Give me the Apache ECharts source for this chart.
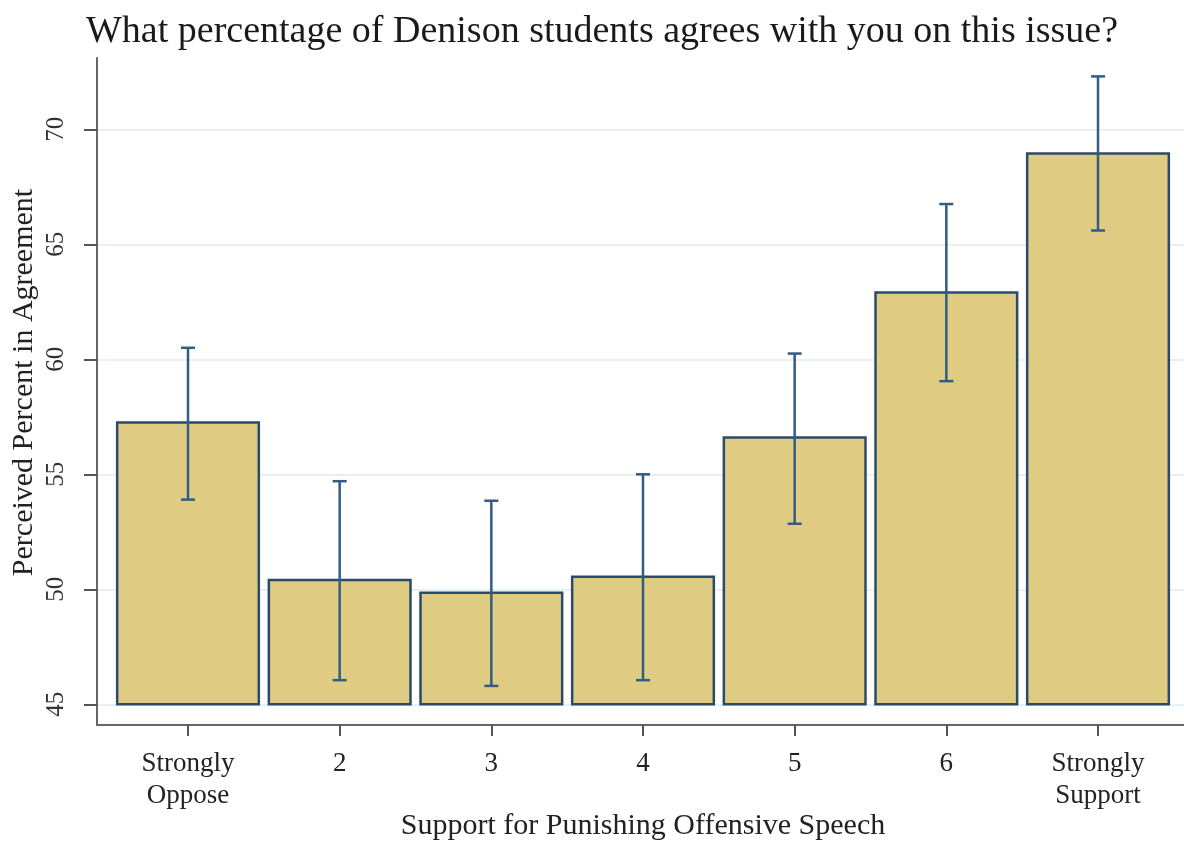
<!DOCTYPE html>
<html>
<head>
<meta charset="utf-8">
<script src="https://cdn.jsdelivr.net/npm/echarts@6/dist/echarts.min.js"></script>
<style>
  html, body { margin: 0; padding: 0; background: #ffffff; }
  #chart { width: 1184px; height: 842px; }
</style>
</head>
<body>
<div id="chart"></div>
<script>
// Support categories (1 = Strongly Oppose ... 7 = Strongly Support)
const categories = ['Strongly\nOppose', '2', '3', '4', '5', '6', 'Strongly\nSupport'];
// Mean perceived percent in agreement for each category
const means = [57.25, 50.4, 49.85, 50.55, 56.6, 62.9, 68.95];
// 95% confidence interval bounds
const lower = [53.9, 46.05, 45.8, 46.05, 52.85, 59.05, 65.6];
const upper = [60.5, 54.7, 53.85, 55.0, 60.25, 66.75, 72.3];
// Y-axis tick values
const yTicks = [45, 50, 55, 60, 65, 70];
const xTicks = [1, 2, 3, 4, 5, 6, 7];
const barBase = 45;

const serif = '"Liberation Serif", "DejaVu Serif", serif';
const barRows = means.map((m, i) => [i + 1, m]);
const errRows = means.map((m, i) => [i + 1, lower[i], upper[i]]);

const chart = echarts.init(document.getElementById('chart'), null, { renderer: 'canvas' });

chart.setOption({
  backgroundColor: '#ffffff',
  animation: false,
  title: {
    text: 'What percentage of Denison students agrees with you on this issue?',
    left: 81,
    top: 8,
    textStyle: { fontFamily: serif, fontSize: 38, fontWeight: 'normal', color: '#1a1a1a' }
  },
  grid: { left: 97, right: -5, top: 58, bottom: 117, containLabel: false, outerBoundsMode: 'none' },
  xAxis: {
    type: 'value',
    min: 0.4,
    max: 7.6,
    name: 'Support for Punishing Offensive Speech',
    nameLocation: 'middle',
    nameGap: 86,
    nameMoveOverlap: false,
    nameTextStyle: { fontFamily: serif, fontSize: 30, color: '#222' },
    axisLine: { show: true, onZero: false, lineStyle: { color: '#666', width: 2 } },
    axisTick: { show: true, customValues: xTicks, length: 11, lineStyle: { color: '#555', width: 2 } },
    axisLabel: {
      customValues: xTicks,
      formatter: v => categories[Math.round(v) - 1],
      fontFamily: serif, fontSize: 27, color: '#222', lineHeight: 32, margin: 23
    },
    splitLine: { show: false }
  },
  yAxis: {
    type: 'value',
    min: 44.1,
    max: 73.1,
    name: 'Perceived Percent in Agreement',
    nameLocation: 'middle',
    nameGap: 58,
    nameMoveOverlap: false,
    nameTextStyle: { fontFamily: serif, fontSize: 30, color: '#222', padding: [0, 0, 0, 18] },
    axisLine: { show: true, onZero: false, lineStyle: { color: '#666', width: 2 } },
    axisTick: { show: true, customValues: yTicks, length: 13, lineStyle: { color: '#555', width: 2 } },
    axisLabel: {
      customValues: yTicks,
      rotate: 90,
      fontFamily: serif, fontSize: 25, color: '#333', margin: 28
    },
    splitLine: { show: true, lineStyle: { color: '#e7f0f2', width: 2 } }
  },
  series: [
    {
      type: 'custom',
      name: 'bars',
      data: barRows,
      encode: { x: 0, y: 1 },
      renderItem: function (params, api) {
        const x = api.value(0);
        const v = api.value(1);
        const half = 0.467;
        const p0 = api.coord([x - half, v]);
        const p1 = api.coord([x + half, barBase]);
        return {
          type: 'rect',
          shape: { x: p0[0], y: p0[1], width: p1[0] - p0[0], height: p1[1] - p0[1] },
          style: { fill: '#dfcb81', stroke: '#2a4b6c', lineWidth: 2.5 }
        };
      },
      z: 2
    },
    {
      type: 'custom',
      name: 'ci',
      data: errRows,
      encode: { x: 0, y: [1, 2] },
      renderItem: function (params, api) {
        const x = api.value(0);
        const lo = api.coord([x, api.value(1)]);
        const hi = api.coord([x, api.value(2)]);
        const cap = 7;
        const st = { stroke: '#325c84', lineWidth: 2.5 };
        return {
          type: 'group',
          children: [
            { type: 'line', shape: { x1: lo[0], y1: lo[1], x2: hi[0], y2: hi[1] }, style: st },
            { type: 'line', shape: { x1: lo[0] - cap, y1: lo[1], x2: lo[0] + cap, y2: lo[1] }, style: st },
            { type: 'line', shape: { x1: hi[0] - cap, y1: hi[1], x2: hi[0] + cap, y2: hi[1] }, style: st }
          ]
        };
      },
      z: 3
    }
  ]
});
</script>
</body>
</html>
